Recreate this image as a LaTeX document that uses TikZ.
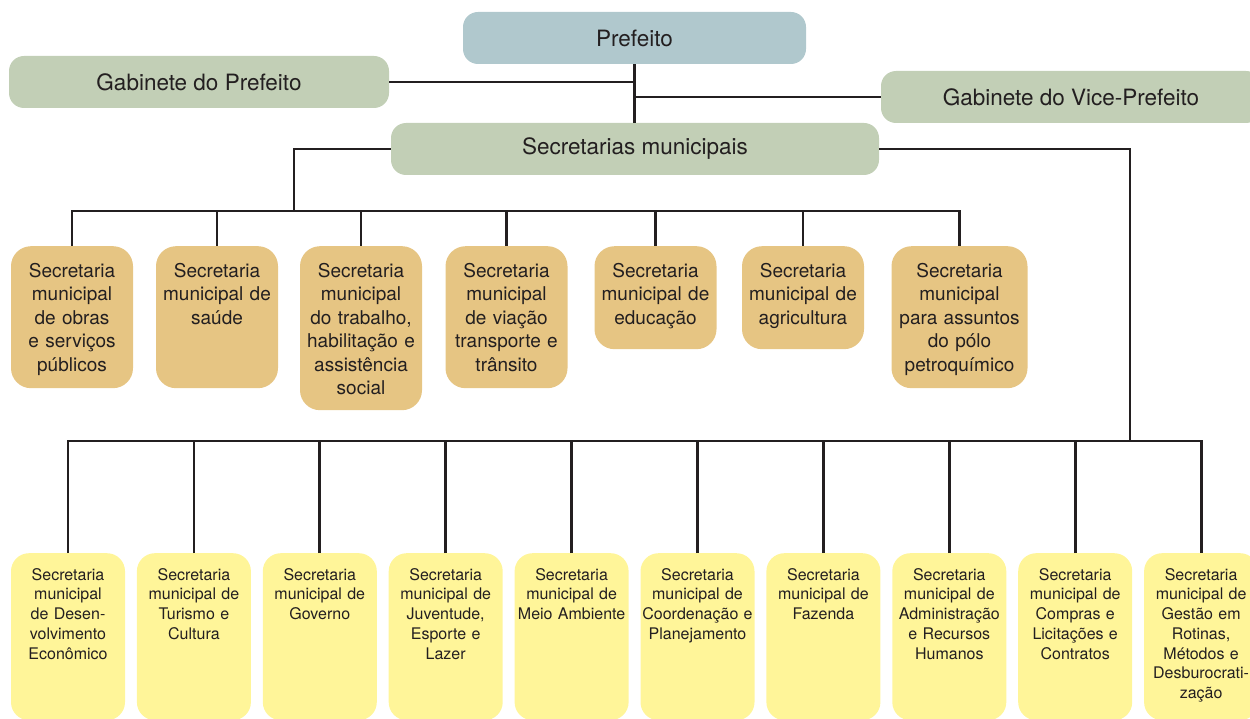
\documentclass[tikz,border=0pt]{standalone}
\usepackage{fontspec}
\setmainfont{TeX Gyre Heros}
\usetikzlibrary{positioning}
\definecolor{ink}{HTML}{231F20}
\definecolor{prefblue}{HTML}{B0C8CD}
\definecolor{gabgreen}{HTML}{C2CFB6}
\definecolor{midtan}{HTML}{E6C583}
\definecolor{lowyellow}{HTML}{FFF599}

\begin{document}
\begin{tikzpicture}[
  x=1pt, y=-1pt,
  every node/.style={text=ink, align=center, inner sep=0pt},
  topbox/.style={fill=#1, rounded corners=15pt, minimum height=52pt,
                 font=\fontsize{22.5}{27}\selectfont},
  midbox/.style={fill=midtan, rounded corners=20pt, anchor=north,
                 inner xsep=2pt, inner ysep=17pt, text width=118pt,
                 text height=14pt, text depth=#1,
                 font=\fontsize{19}{23.5}\selectfont},
  lowbox/.style={fill=lowyellow, rounded corners=18pt, anchor=north,
                 inner xsep=1pt, inner ysep=15pt, text width=112pt,
                 text height=12pt, text depth=125pt,
                 font=\fontsize{16}{19.7}\selectfont},
  link/.style={draw=ink, line width=2.8pt}
]
\useasboundingbox (0,0) rectangle (1250,719);

% top of the chart
\node[topbox=prefblue, minimum width=343pt] (pref) at (634.5,38) {Prefeito};
\node[topbox=gabgreen, minimum width=380pt] (gab)  at (199,82)   {Gabinete do Prefeito};
\node[topbox=gabgreen, minimum width=380pt] (vice) at (1071,97)  {Gabinete do Vice-Prefeito};
\node[topbox=gabgreen, minimum width=488pt] (sec)  at (635,149)  {Secretarias municipais};

% first row of secretarias
\node[midbox=94pt]  (m1) at (72,246)    {Secretaria\\municipal\\de obras\\e serviços\\públicos};
\node[midbox=94pt]  (m2) at (217,246)   {Secretaria\\municipal de\\saúde};
\node[midbox=116pt] (m3) at (361,246)   {Secretaria\\municipal\\do trabalho,\\habilitação e\\assistência\\social};
\node[midbox=94pt]  (m4) at (506.5,246) {Secretaria\\municipal\\de viação\\transporte e\\trânsito};
\node[midbox=55pt]  (m5) at (655.5,246) {Secretaria\\municipal de\\educação};
\node[midbox=55pt]  (m6) at (803,246)   {Secretaria\\municipal de\\agricultura};
\node[midbox=94pt, text width=132pt] (m7) at (959.5,246) {Secretaria\\municipal\\para assuntos\\do pólo\\petroquímico};

% second row of secretarias
\node[lowbox] (b1) at (68,553) {Secretaria\\municipal\\de Desen-\\volvimento\\Econômico};
\node[lowbox, right=11.5pt of b1] (b2)  {Secretaria\\municipal de\\Turismo e\\Cultura};
\node[lowbox, right=11.5pt of b2] (b3)  {Secretaria\\municipal de\\Governo};
\node[lowbox, right=11.5pt of b3] (b4)  {Secretaria\\municipal de\\Juventude,\\Esporte e\\Lazer};
\node[lowbox, right=11.5pt of b4] (b5)  {Secretaria\\municipal de\\Meio Ambiente};
\node[lowbox, right=11.5pt of b5] (b6)  {Secretaria\\municipal de\\Coordenação e\\Planejamento};
\node[lowbox, right=11.5pt of b6] (b7)  {Secretaria\\municipal de\\Fazenda};
\node[lowbox, right=11.5pt of b7] (b8)  {Secretaria\\municipal de\\Administração\\e Recursos\\Humanos};
\node[lowbox, right=11.5pt of b8] (b9)  {Secretaria\\municipal de\\Compras e\\Licitações e\\Contratos};
\node[lowbox, right=11.5pt of b9] (b10) {Secretaria\\municipal de\\Gestão em\\Rotinas,\\Métodos e\\Desburocrati-\\zação};

\coordinate (busA) at (294,211);
\coordinate (busB) at (1130,441);

% connectors
\draw[link] (pref.south) -- (pref.south |- sec.north);
\draw[link] (gab.east) -- (gab.east -| pref.south);
\draw[link] (vice.west) -- (vice.west -| pref.south);
\draw[link] (sec.west) -| (busA);
\draw[link] (sec.east) -| (busB);

\draw[link] (m1.north) |- (m7.north |- busA) -- (m7.north);
\draw[link] (m2.north) -- (m2.north |- busA);
\draw[link] (m3.north) -- (m3.north |- busA);
\draw[link] (m4.north) -- (m4.north |- busA);
\draw[link] (m5.north) -- (m5.north |- busA);
\draw[link] (m6.north) -- (m6.north |- busA);

\draw[link] (b1.north) |- (b10.north |- busB) -- (b10.north);
\draw[link] (b2.north) -- (b2.north |- busB);
\draw[link] (b3.north) -- (b3.north |- busB);
\draw[link] (b4.north) -- (b4.north |- busB);
\draw[link] (b5.north) -- (b5.north |- busB);
\draw[link] (b6.north) -- (b6.north |- busB);
\draw[link] (b7.north) -- (b7.north |- busB);
\draw[link] (b8.north) -- (b8.north |- busB);
\draw[link] (b9.north) -- (b9.north |- busB);
\end{tikzpicture}
\end{document}
